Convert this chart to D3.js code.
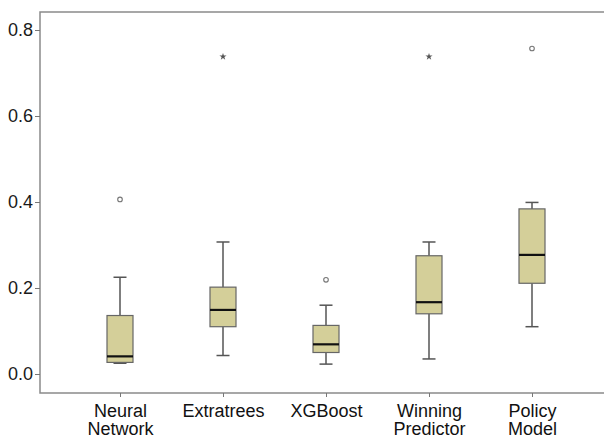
<!DOCTYPE html>
<html><head><meta charset="utf-8">
<script src="https://cdn.jsdelivr.net/npm/d3@7"></script>
<style>body{margin:0;background:#fff}svg{display:block}</style>
</head><body>
<svg id="c" width="604" height="439"></svg>
<script>
const categories = [["Neural","Network"],["Extratrees"],["XGBoost"],["Winning","Predictor"],["Policy","Model"]];
const whiskerLow  = [0.025, 0.043, 0.023, 0.035, 0.110];
const q1          = [0.027, 0.110, 0.050, 0.140, 0.211];
const median      = [0.041, 0.149, 0.069, 0.167, 0.277];
const q3          = [0.136, 0.202, 0.113, 0.275, 0.384];
const whiskerHigh = [0.225, 0.307, 0.160, 0.307, 0.399];
const outliers    = [[0.406],[],[0.219],[],[0.757]];
const extremes    = [[],[0.738],[],[0.738],[]];
const yTicks = [0.0, 0.2, 0.4, 0.6, 0.8];

(function(){
const svg = d3.select("#c");
const mLeft = 40, mTop = 12, mBottom = 393, mRight = 610;
const y = d3.scaleLinear().domain([0, 0.8]).range([374, 30]);
const x = d3.scalePoint().domain(d3.range(categories.length)).range([120, 532]);
const boxW = 26, capW = 13;
const font = "Arial, 'Liberation Sans', sans-serif";

svg.append("rect").attr("x", mLeft).attr("y", mTop).attr("width", mRight-mLeft).attr("height", mBottom-mTop)
  .attr("fill", "none").attr("stroke", "#8a8a8a").attr("stroke-width", 1.5);

const ya = svg.append("g").attr("transform", `translate(${mLeft},0)`)
  .call(d3.axisLeft(y).tickValues(yTicks).tickFormat(d3.format(".1f")).tickSize(5).tickPadding(2));
ya.select(".domain").remove();
ya.selectAll(".tick line").attr("stroke", "#777");
ya.selectAll(".tick text").attr("font-family", font).attr("font-size", 18).attr("fill", "#1a1a1a");

const xa = svg.append("g").attr("transform", `translate(0,${mBottom})`)
  .call(d3.axisBottom(x).tickSize(4).tickFormat(""));
xa.select(".domain").remove();
xa.selectAll(".tick line").attr("stroke", "#777");
xa.selectAll(".tick").each(function(d){
  const t = d3.select(this).append("text").attr("fill", "#111").attr("font-family", font)
    .attr("font-size", 18).attr("text-anchor", "middle");
  categories[d].forEach((ln, i) => t.append("tspan").attr("x", 0).attr("y", 24 + i*17.5).text(ln));
});

const g = svg.append("g");
categories.forEach((c, i) => {
  const cx = x(i);
  const s = "#555";
  g.append("line").attr("x1", cx).attr("x2", cx).attr("y1", y(whiskerHigh[i])).attr("y2", y(q3[i])).attr("stroke", s).attr("stroke-width", 1.5);
  g.append("line").attr("x1", cx).attr("x2", cx).attr("y1", y(q1[i])).attr("y2", y(whiskerLow[i])).attr("stroke", s).attr("stroke-width", 1.5);
  g.append("line").attr("x1", cx-capW/2).attr("x2", cx+capW/2).attr("y1", y(whiskerHigh[i])).attr("y2", y(whiskerHigh[i])).attr("stroke", s).attr("stroke-width", 1.5);
  g.append("line").attr("x1", cx-capW/2).attr("x2", cx+capW/2).attr("y1", y(whiskerLow[i])).attr("y2", y(whiskerLow[i])).attr("stroke", s).attr("stroke-width", 1.5);
  g.append("rect").attr("x", cx-boxW/2).attr("width", boxW).attr("y", y(q3[i])).attr("height", y(q1[i])-y(q3[i]))
    .attr("fill", "#d4cf99").attr("stroke", "#666").attr("stroke-width", 1.2);
  g.append("line").attr("x1", cx-boxW/2).attr("x2", cx+boxW/2).attr("y1", y(median[i])).attr("y2", y(median[i])).attr("stroke", "#111").attr("stroke-width", 2.2);
  outliers[i].forEach(v => g.append("circle").attr("cx", cx).attr("cy", y(v)).attr("r", 2.3)
    .attr("fill", "none").attr("stroke", "#777").attr("stroke-width", 1.1));
  extremes[i].forEach(v => g.append("path").attr("transform", `translate(${cx},${y(v)})`)
    .attr("d", d3.symbol(d3.symbolStar, 16)()).attr("fill", "#555"));
});
})();
</script>
</body></html>
